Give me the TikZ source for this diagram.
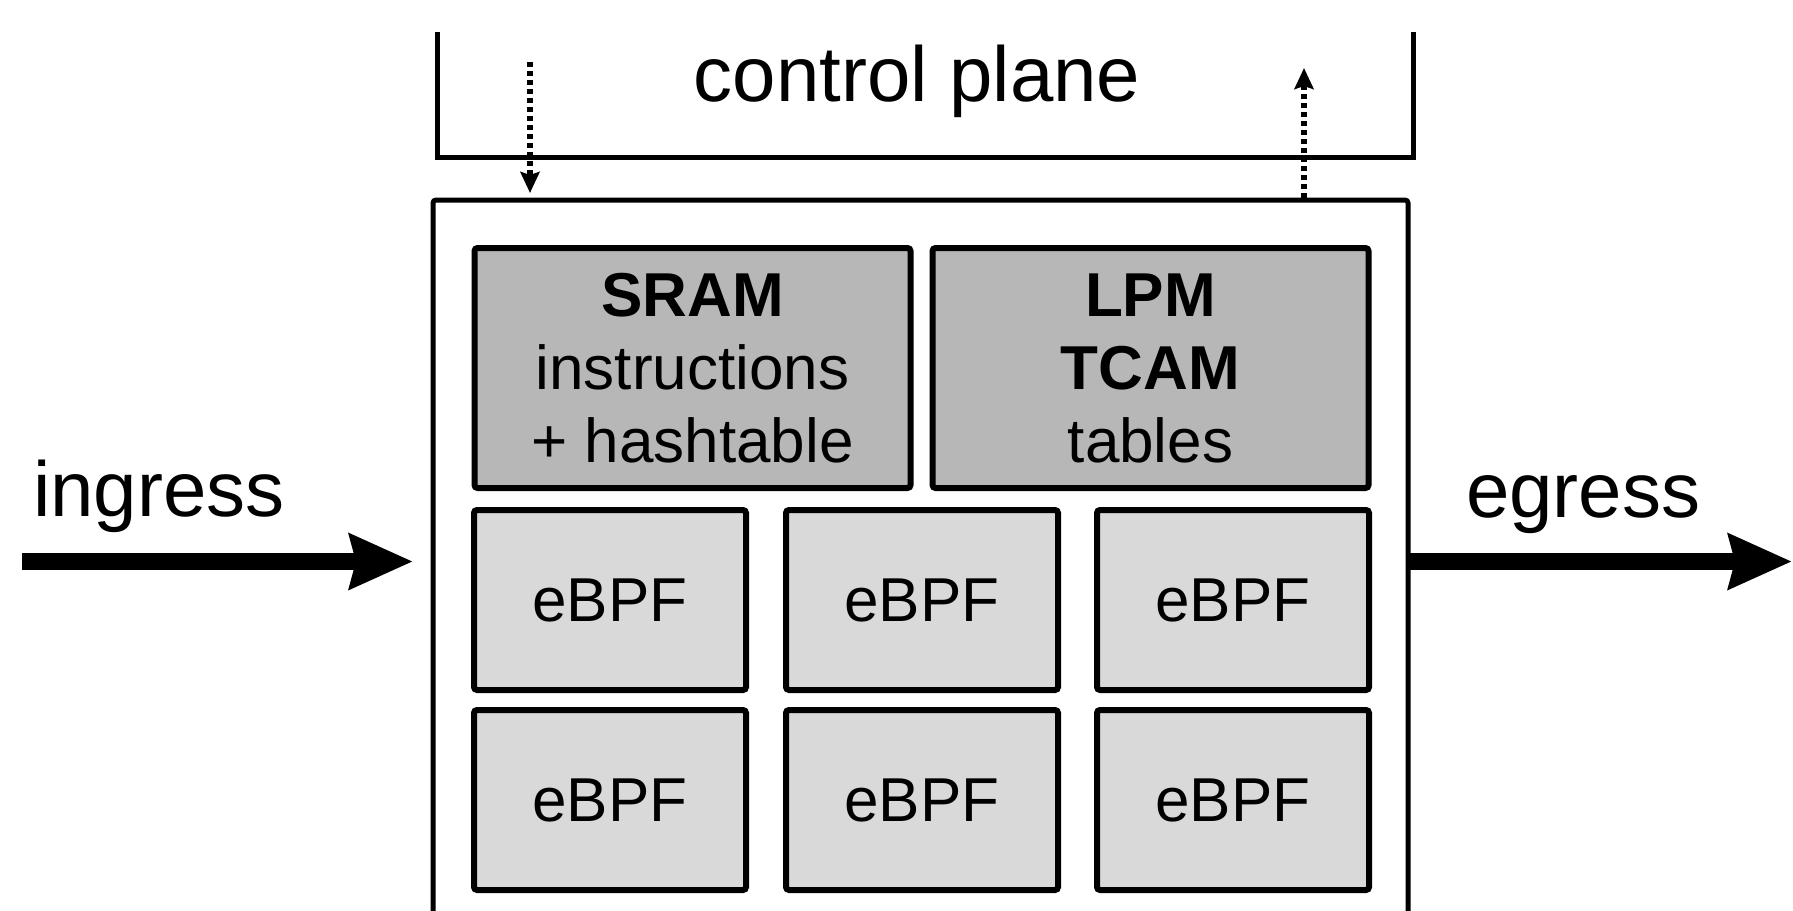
\documentclass[tikz,border=0pt]{standalone}
\usepackage{fontspec}
\setmainfont{Liberation Sans}
\usetikzlibrary{arrows.meta}
\definecolor{memfill}{HTML}{B7B7B7}
\definecolor{unitfill}{HTML}{D9D9D9}
\tikzset{
  every node/.style={outer sep=0pt},
  boxtext/.style={font=\fontsize{62}{73}\selectfont},
  biglabel/.style={inner sep=0pt, font=\fontsize{78}{92}\selectfont},
  membox/.style={draw, line width=6pt, fill=memfill, rounded corners=3pt,
    minimum width=436pt, minimum height=240pt, inner sep=0pt, align=center, boxtext},
  unitbox/.style={draw, line width=6pt, fill=unitfill, rounded corners=3pt,
    minimum width=272pt, minimum height=180pt, inner sep=0pt, boxtext},
  flow/.style={line width=17pt, -{Stealth[length=63pt,width=54pt,inset=6pt]}},
  ctrl/.style={line width=6pt, dash pattern=on 5pt off 4pt,
    -{Stealth[length=21pt,width=19pt,inset=3pt]}},
}
\begin{document}
\begin{tikzpicture}[x=1pt,y=-1pt]
\useasboundingbox (0,0) rectangle (1793,910);
\clip (0,0) rectangle (1793,910);

% control plane bracket
\draw[line width=5pt] (437,32) -- (437,157) -- (1413,157) -- (1413,32);
\node[biglabel, anchor=base] (cp) at (917,101) {control plane};

% data plane chip (open at the bottom)
\node[draw, line width=5pt, rounded corners=3pt, minimum width=975pt,
      minimum height=760pt, anchor=north west, inner sep=0pt] (chip) at (433,200) {};

% memories
\node[membox] (sram) at (692.5,368) {\textbf{SRAM}\\instructions\\+ hashtable};
\node[membox] (lpm) at (1150.5,368) {\textbf{LPM}\\\textbf{TCAM}\\tables};

% processing units
\node[unitbox] (u1) at (610,600) {eBPF};
\node[unitbox] (u2) at (922,600) {eBPF};
\node[unitbox] (u3) at (1233,600) {eBPF};
\node[unitbox] (u4) at (610,800) {eBPF};
\node[unitbox] (u5) at (922,800) {eBPF};
\node[unitbox] (u6) at (1233,800) {eBPF};

% packet flow
\node[biglabel, anchor=base west] (ing) at (33,516) {ingress};
\node[biglabel, anchor=base west] (egr) at (1466,517) {egress};
\coordinate (inStart) at (22,561.5);
\coordinate (outEnd) at (1792,561.5);
\draw[flow, shorten >=20pt] (inStart) -- (inStart -| chip.west);
\draw[flow] (outEnd -| chip.east) -- (outEnd);

% control plane interaction
\coordinate (cmdTop) at (530,62);
\coordinate (rptTop) at (1304,68);
\draw[ctrl, shorten >=7pt] (cmdTop) -- (cmdTop |- chip.north);
\draw[ctrl, shorten <=2pt] (rptTop |- chip.north) -- (rptTop);
\end{tikzpicture}
\end{document}
